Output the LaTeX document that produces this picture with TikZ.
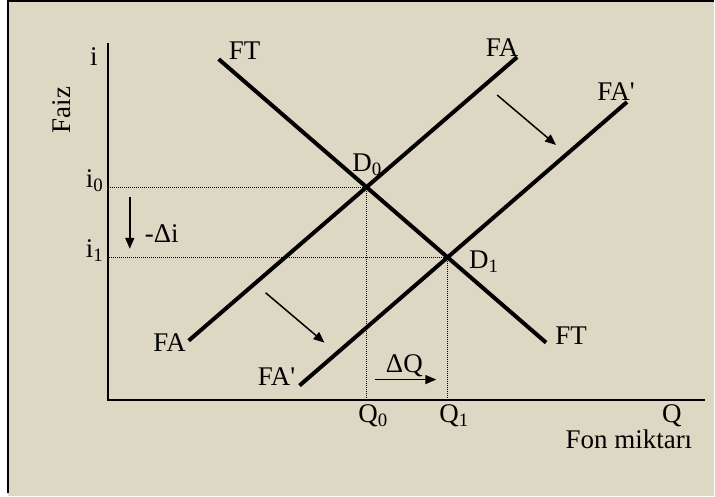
\documentclass[tikz,border=0pt]{standalone}
\usepackage{fontspec}
\setmainfont{Liberation Serif}
\usetikzlibrary{arrows.meta}
\definecolor{paper}{RGB}{221,216,196}

\tikzset{
  curve/.style={line width=2pt},
  axis/.style={line width=1pt},
  guide/.style={line width=0.5pt, dash pattern=on 0.5pt off 0.5pt},
  shiftarrow/.style={line width=0.75pt, -{Triangle[length=5.5pt,width=4.5pt]}},
  lbl/.style={font=\fontsize{13.5}{14}\selectfont, inner sep=0pt},
}

\begin{document}
\begin{tikzpicture}[x=0.5pt,y=-0.5pt]
  % background and frame
  \fill[paper] (8,0) rectangle (715,497);
  \draw[line width=1.2pt] (8,494) -- (8,1) -- (715,1);
  \useasboundingbox (0,0) rectangle (715,497);

  % axes
  \coordinate (O) at (108,400);
  \coordinate (ytop) at (108,43);
  \coordinate (xend) at (706,400);
  \draw[axis] (ytop) -- (O) -- (xend);

  % curves
  \coordinate (FTa) at (219,59);
  \coordinate (FTb) at (547,343);
  \coordinate (FAa) at (189,341);
  \coordinate (FAb) at (518,57);
  \coordinate (FApa) at (300,386);
  \coordinate (FApb) at (628,102);
  \draw[curve] (FTa) -- (FTb);
  \draw[curve] (FAa) -- (FAb);
  \draw[curve] (FApa) -- (FApb);

  \coordinate (D0) at (intersection of FTa--FTb and FAa--FAb);
  \coordinate (D1) at (intersection of FTa--FTb and FApa--FApb);

  % guides
  \draw[guide] (D0) -- (O |- D0);
  \draw[guide] (D0) -- (D0 |- O);
  \draw[guide] (D1) -- (O |- D1);
  \draw[guide] (D1) -- (D1 |- O);

  % shift arrows
  \coordinate (sa1) at (498,95);
  \coordinate (sb1) at (557,145);
  \coordinate (sa2) at (266,293);
  \coordinate (sb2) at (325,343);
  \coordinate (di1) at (130,197);
  \coordinate (di2) at (130,249);
  \coordinate (dq1) at (376,380);
  \coordinate (dq2) at (437,380);
  \draw[shiftarrow] (sa1) -- (sb1);
  \draw[shiftarrow] (sa2) -- (sb2);
  \draw[shiftarrow] (di1) -- (di2);
  \draw[shiftarrow] (dq1) -- (dq2);

  % labels
  \node[lbl] (iax) at (94,56) {i};
  \node[lbl, rotate=90] (faiz) at (62,110) {Faiz};
  \node[lbl] (i0) at (95,181) {i\textsubscript{0}};
  \node[lbl] (i1) at (95,251) {i\textsubscript{1}};
  \node[lbl] (dil) at (162,234) {-Δi};
  \node[lbl] (d0l) at (368,165) {D\textsubscript{0}};
  \node[lbl] (d1l) at (485,262) {D\textsubscript{1}};
  \node[lbl] (ft1) at (245,51) {FT};
  \node[lbl] (ft2) at (572,336) {FT};
  \node[lbl] (fa1) at (503,47) {FA};
  \node[lbl] (fa2) at (170,343) {FA};
  \node[lbl] (fap1) at (617,92) {FA\textquotesingle};
  \node[lbl] (fap2) at (277,377) {FA\textquotesingle};
  \node[lbl] (dql) at (405,366) {ΔQ};
  \node[lbl] (q0) at (374,416) {Q\textsubscript{0}};
  \node[lbl] (q1) at (455,416) {Q\textsubscript{1}};
  \node[lbl] (q) at (673,416) {Q};
  \node[lbl] (fon) at (630,440) {Fon miktarı};
\end{tikzpicture}
\end{document}
